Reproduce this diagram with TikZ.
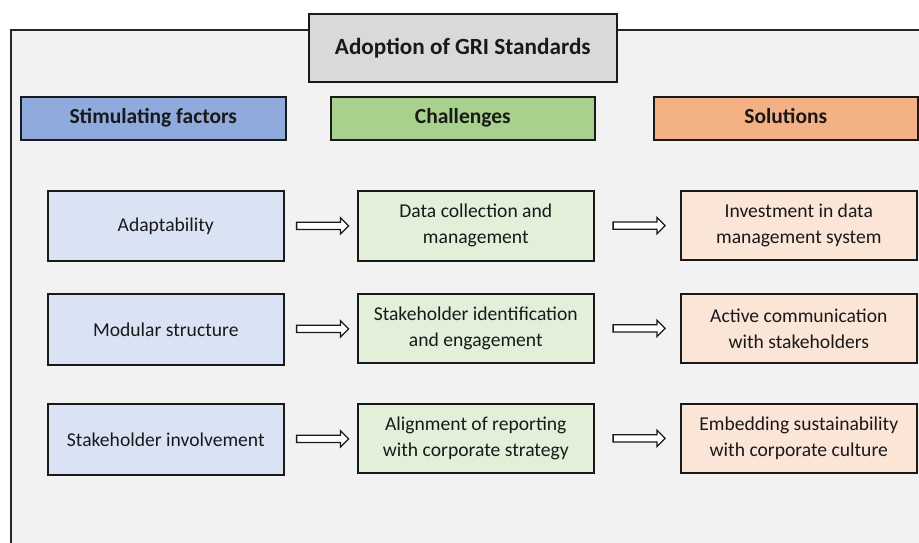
\documentclass[tikz,border=0pt]{standalone}
\usepackage{fontspec}
\setmainfont{Carlito}
\usetikzlibrary{shapes.arrows}
\definecolor{panel}{HTML}{F2F2F2}
\definecolor{titlefill}{HTML}{D9D9D9}
\definecolor{hblue}{HTML}{8FAADC}
\definecolor{hgreen}{HTML}{A9D18E}
\definecolor{horange}{HTML}{F4B183}
\definecolor{lblue}{HTML}{DAE3F3}
\definecolor{lgreen}{HTML}{E2F0D9}
\definecolor{lorange}{HTML}{FBE5D6}
\definecolor{edge}{HTML}{1A1A1A}
\tikzset{
  x=1pt, y=-1pt,
  box/.style={draw=edge, line width=1.6pt, anchor=north west, inner sep=0pt,
    align=center, font=\fontsize{19.6}{26}\selectfont, text=black!90},
  headbox/.style={box, font=\fontsize{21.5}{24}\selectfont\bfseries,
    text height=0.95em, text depth=0pt},
  flow/.style={single arrow, draw=edge, fill=white, line width=1.3pt,
    minimum height=52pt, minimum width=0pt, inner xsep=0pt, inner ysep=3pt,
    single arrow head extend=4.5pt, single arrow tip angle=90}
}
\begin{document}
\begin{tikzpicture}
\useasboundingbox (0,0) rectangle (919,542);
% background panel, running off the right and bottom edges
\fill[white] (0,0) rectangle (919,542);
\fill[panel] (11,30) rectangle (940,560);
\draw[draw=black!85, line width=1.4pt] (11,560) -- (11,30) -- (940,30);
% title
\node[box, fill=titlefill, minimum width=308pt, minimum height=68pt,
  font=\fontsize{23.2}{26}\selectfont\bfseries] (title) at (308,13) {Adoption of GRI Standards};
% column headers
\node[headbox, fill=hblue, minimum width=265pt, minimum height=43pt] (h1) at (20,96) {Stimulating factors};
\node[headbox, fill=hgreen, minimum width=264pt, minimum height=43pt] (h2) at (330,96) {Challenges};
\node[headbox, fill=horange, minimum width=264pt, minimum height=43pt] (h3) at (653,96) {Solutions};
% stimulating factors
\node[box, fill=lblue, minimum width=236pt, minimum height=70pt] (a1) at (47,190) {Adaptability};
\node[box, fill=lblue, minimum width=236pt, minimum height=71pt] (a2) at (47,293) {Modular structure};
\node[box, fill=lblue, minimum width=236pt, minimum height=71pt] (a3) at (47,403) {Stakeholder involvement};
% challenges
\node[box, fill=lgreen, minimum width=236pt, minimum height=70pt] (b1) at (357,190) {Data collection and\\management};
\node[box, fill=lgreen, minimum width=236pt, minimum height=69pt] (b2) at (357,293) {Stakeholder identification\\and engagement};
\node[box, fill=lgreen, minimum width=236pt, minimum height=69pt] (b3) at (357,403) {Alignment of reporting\\with corporate strategy};
% solutions
\node[box, fill=lorange, minimum width=236pt, minimum height=69pt] (c1) at (680,190) {Investment in data\\management system};
\node[box, fill=lorange, minimum width=236pt, minimum height=69pt] (c2) at (680,293) {Active communication\\with stakeholders};
\node[box, fill=lorange, minimum width=236pt, minimum height=69pt] (c3) at (680,403) {Embedding sustainability\\with corporate culture};
% block arrows between columns
\foreach \i in {1,2,3}{
  \path (a\i.east) -- (b\i.west) node[midway, flow] (p\i) {};
  \path (b\i.east) -- (c\i.west) node[midway, flow] (q\i) {};
}
\end{tikzpicture}
\end{document}
